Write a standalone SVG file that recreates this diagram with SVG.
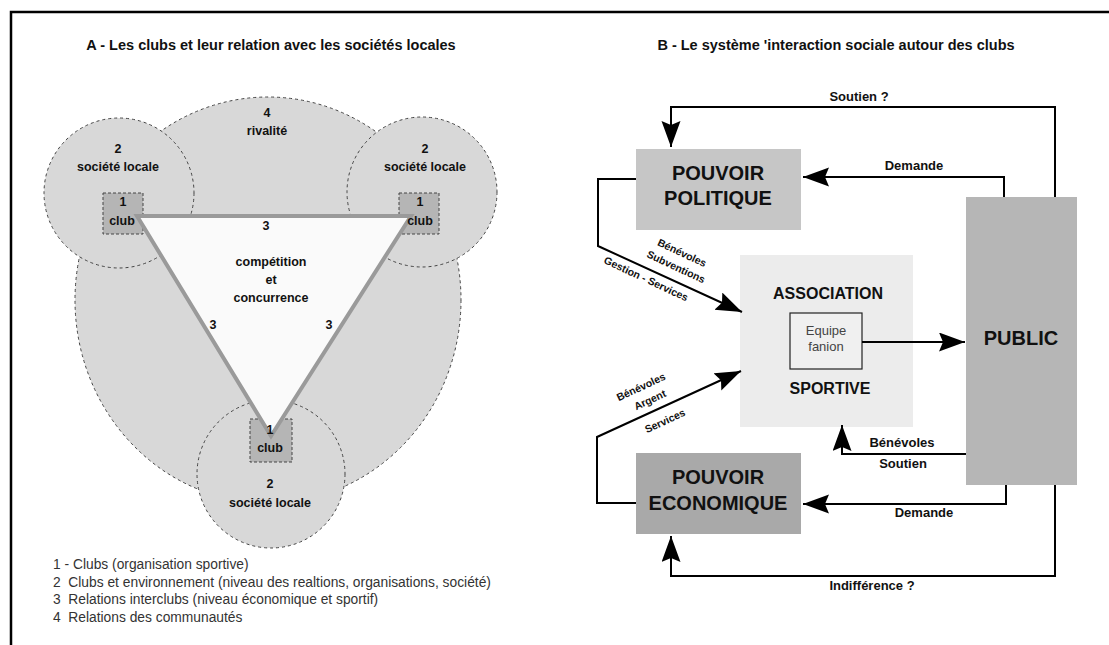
<svg xmlns="http://www.w3.org/2000/svg" width="1109" height="645" viewBox="0 0 1109 645">
<defs>
<marker id="arr" markerUnits="userSpaceOnUse" markerWidth="27" markerHeight="20" refX="26" refY="9.5" orient="auto">
<path d="M0,0 L26,9.5 L0,19 L4,9.5 z" fill="#000"/>
</marker>
</defs>
<style>
.t{font-family:"Liberation Sans",Arial,sans-serif;fill:#111;text-anchor:middle}
.b{font-weight:bold}
.lab{font-size:12.5px;font-weight:bold}
.leg{font-family:"Liberation Sans",Arial,sans-serif;font-size:13.8px;fill:#333;white-space:pre}
.zone{fill:#d8d8d8;stroke:#444;stroke-width:1;stroke-dasharray:3 3}
.club{fill:#b5b5b5;stroke:#444;stroke-width:1;stroke-dasharray:3 2}
.big{font-size:20px;font-weight:bold}
.con{fill:none;stroke:#000;stroke-width:2}
.dg{font-size:10.5px;font-weight:bold}
.cl{font-size:13px;font-weight:bold}
</style>
<rect width="1109" height="645" fill="#fff"/>
<path d="M11,645 V12 H1109" fill="none" stroke="#000" stroke-width="2.5"/>

<text class="t b" x="271" y="50" font-size="14.5">A - Les clubs et leur relation avec les sociétés locales</text>
<text class="t b" x="836" y="50" font-size="14.5">B - Le système 'interaction sociale autour des clubs</text>

<g id="zone-rivalite">
<ellipse class="zone" cx="268" cy="300" rx="193" ry="203"/>
<text class="t lab" x="267" y="117">4</text>
<text class="t lab" x="267" y="135">rivalité</text>
</g>
<g id="societe-gauche">
<circle class="zone" cx="119" cy="193" r="75"/>
<text class="t lab" x="118" y="153">2</text>
<text class="t lab" x="118" y="171">société locale</text>
</g>
<g id="societe-droite">
<circle class="zone" cx="422" cy="192" r="75"/>
<text class="t lab" x="425" y="153">2</text>
<text class="t lab" x="425" y="171">société locale</text>
</g>
<g id="societe-bas">
<circle class="zone" cx="271" cy="474" r="74" fill="#dcdcdc"/>
<text class="t lab" x="270" y="488">2</text>
<text class="t lab" x="270" y="507">société locale</text>
</g>
<g id="clubs-boxes">
<rect class="club" x="103" y="193" width="40" height="41"/>
<rect class="club" x="399" y="193" width="40" height="41"/>
<rect class="club" x="250" y="419" width="42" height="43"/>
</g>
<g id="triangle-relations">
<polygon points="137,216 411,216 271,436" fill="#fafafa" stroke="#9a9a9a" stroke-width="4" stroke-linejoin="miter"/>
<text class="t lab" x="266" y="230">3</text>
<text class="t lab" x="213" y="329">3</text>
<text class="t lab" x="329" y="329">3</text>
<text class="t lab" x="271" y="266">compétition</text>
<text class="t lab" x="271" y="284">et</text>
<text class="t lab" x="271" y="302">concurrence</text>
</g>
<g id="club-gauche">
<text class="t lab" x="123" y="206">1</text>
<text class="t lab" x="122" y="225">club</text>
</g>
<g id="club-droite">
<text class="t lab" x="420" y="206">1</text>
<text class="t lab" x="420" y="225">club</text>
</g>
<g id="club-bas">
<text class="t lab" x="270" y="434">1</text>
<text class="t lab" x="270" y="452">club</text>
</g>
<g id="legende">
<text class="leg" x="53" y="569">1 - Clubs (organisation sportive)</text>
<text class="leg" x="53" y="587">2  Clubs et environnement (niveau des realtions, organisations, société)</text>
<text class="leg" x="53" y="604">3  Relations interclubs (niveau économique et sportif)</text>
<text class="leg" x="53" y="622">4  Relations des communautés</text>
</g>

<g id="pouvoir-politique">
<rect x="636" y="149" width="165" height="81" fill="#c6c6c6"/>
<text class="t big" x="718" y="180">POUVOIR</text>
<text class="t big" x="718" y="205">POLITIQUE</text>
</g>
<g id="pouvoir-economique">
<rect x="636" y="453" width="165" height="81" fill="#a9a9a9"/>
<text class="t big" x="718" y="484">POUVOIR</text>
<text class="t big" x="718" y="510">ECONOMIQUE</text>
</g>
<g id="association">
<rect x="740" y="255" width="173" height="172" fill="#ececec"/>
<text class="t b" x="828" y="299" font-size="16">ASSOCIATION</text>
<text class="t b" x="830" y="394" font-size="16">SPORTIVE</text>
</g>
<g id="equipe-fanion">
<rect x="790" y="313" width="72" height="56" fill="#f0f0f0" stroke="#222" stroke-width="1.2"/>
<text class="t" x="826" y="335" font-size="13" style="fill:#444">Equipe</text>
<text class="t" x="826" y="351" font-size="13" style="fill:#444">fanion</text>
</g>
<g id="public">
<rect x="966" y="197" width="111" height="288" fill="#b6b6b6"/>
<text class="t big" x="1021" y="345">PUBLIC</text>
</g>

<g id="connecteurs">
<path class="con" d="M1055,197 V107 H671 V147" marker-end="url(#arr)"/>
<path class="con" d="M1004,197 V177 H803" marker-end="url(#arr)"/>
<path class="con" d="M636,179 H598 V246 L742,312" marker-end="url(#arr)"/>
<path class="con" d="M636,503 H597 V437 L741,371" marker-end="url(#arr)"/>
<path class="con" d="M862,342 H965" marker-end="url(#arr)"/>
<path class="con" d="M966,454 H842 V425" marker-end="url(#arr)"/>
<path class="con" d="M1006,485 V504 H803" marker-end="url(#arr)"/>
<path class="con" d="M1055,485 V576 H671 V536" marker-end="url(#arr)"/>
<text class="t cl" x="859" y="101">Soutien ?</text>
<text class="t cl" x="914" y="170">Demande</text>
<text class="t cl" x="902" y="447">Bénévoles</text>
<text class="t cl" x="903" y="468">Soutien</text>
<text class="t cl" x="924" y="517">Demande</text>
<text class="t cl" x="872" y="590">Indifférence ?</text>
<text class="t dg" x="682" y="256.5" transform="rotate(25 682 253)">Bénévoles</text>
<text class="t dg" x="676" y="270.5" transform="rotate(25 676 267)">Subventions</text>
<text class="t dg" x="646" y="282.5" transform="rotate(25 646 279)">Gestion - Services</text>
<text class="t dg" x="641" y="390.5" transform="rotate(-25 641 387)">Bénévoles</text>
<text class="t dg" x="650" y="403.5" transform="rotate(-25 650 400)">Argent</text>
<text class="t dg" x="665" y="424.5" transform="rotate(-25 665 421)">Services</text>
</g>
</svg>
